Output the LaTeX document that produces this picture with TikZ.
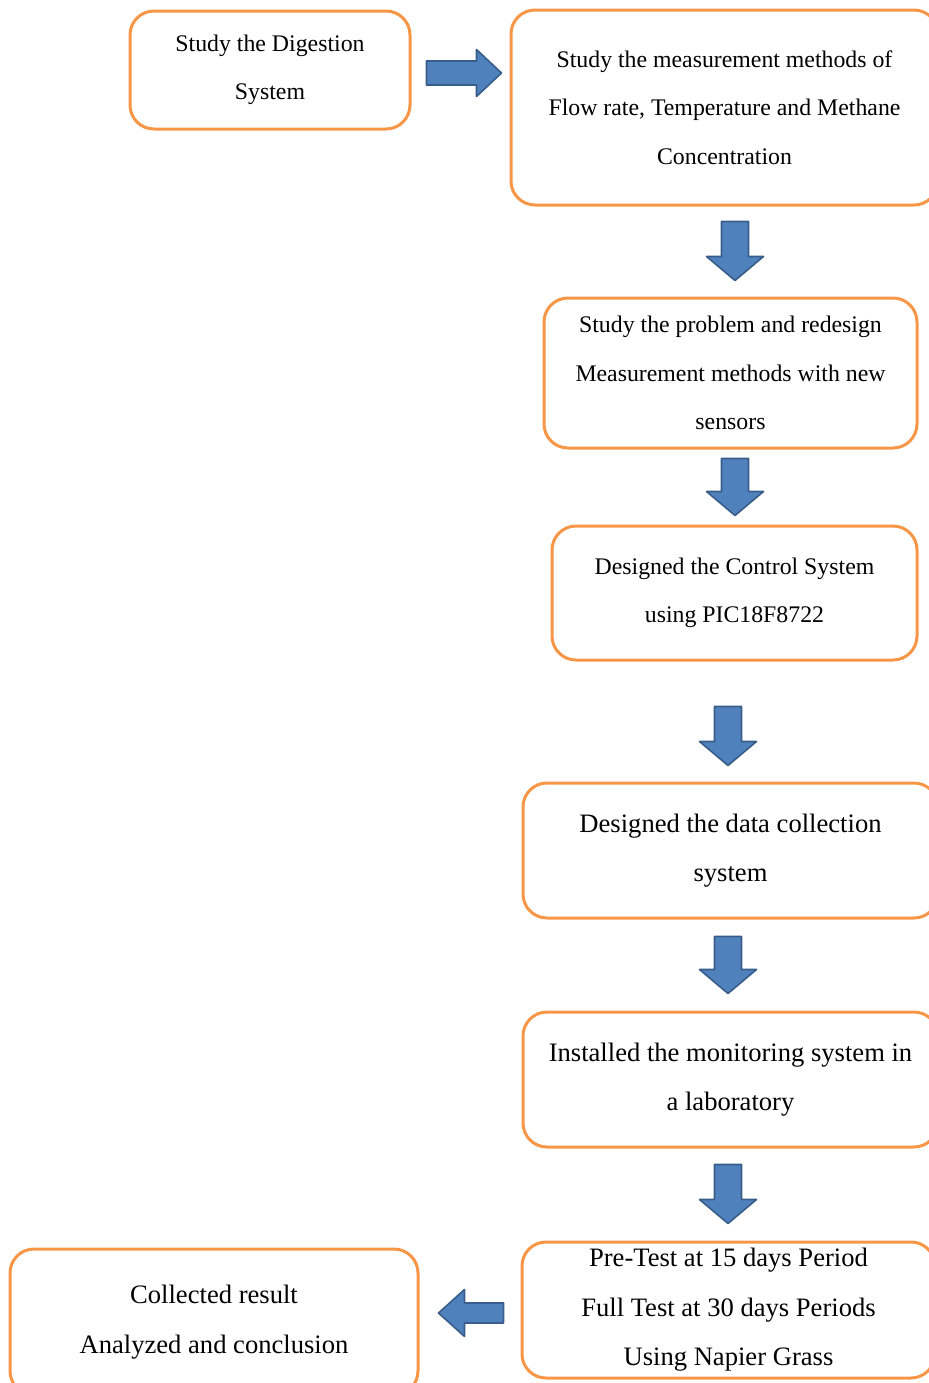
\documentclass[tikz,border=0pt]{standalone}
\usepackage{fontspec}
\setmainfont{Liberation Serif}
\usetikzlibrary{calc}
\definecolor{boxline}{HTML}{F79646}
\definecolor{arrowfill}{HTML}{4F81BD}
\definecolor{arrowline}{HTML}{385D8A}
\tikzset{
  stage/.style={draw=boxline,line width=1.5pt,rounded corners=12pt,align=center,inner sep=0pt,font={\fontsize{11.9}{24.2}\selectfont}},
  bigstage/.style={stage,font={\fontsize{13.3}{24.75}\selectfont}},
  blksize/.code n args={3}{\def\bsw{#1}\def\bhw{#2}\def\bhl{#3}},
  blk/.style={draw=arrowline,fill=arrowfill,line width=0.8pt,line join=round,
    to path={($(\tikztostart)!\bsw!90:(\tikztotarget)$)
      --($($(\tikztotarget)!\bhl!(\tikztostart)$)!\bsw!-90:(\tikztostart)$)
      --($($(\tikztotarget)!\bhl!(\tikztostart)$)!\bhw!-90:(\tikztostart)$)
      --(\tikztotarget)
      --($($(\tikztotarget)!\bhl!(\tikztostart)$)!\bhw!90:(\tikztostart)$)
      --($($(\tikztotarget)!\bhl!(\tikztostart)$)!\bsw!90:(\tikztostart)$)
      --($(\tikztostart)!\bsw!-90:(\tikztotarget)$)--cycle}},
  blkdown/.style={blk,blksize={6.75pt}{14.25pt}{12pt}}
}
\begin{document}
\begin{tikzpicture}[x=0.5pt,y=-0.5pt]
\useasboundingbox (0,0) rectangle (929,1383);
\clip (0,0) rectangle (929,1383);
\node[stage,minimum width=140pt,minimum height=59pt] (dig) at (270,70) {Study the Digestion\\System};
\node[stage,minimum width=213.5pt,minimum height=97.5pt] (meas) at (724.5,107.5) {Study the measurement methods of\\Flow rate, Temperature and Methane\\Concentration};
\node[stage,minimum width=186.5pt,minimum height=75pt] (prob) at (730.5,373) {Study the problem and redesign\\Measurement methods with new\\sensors};
\node[stage,minimum width=182.5pt,minimum height=67pt] (ctrl) at (734.5,593) {Designed the Control System\\using PIC18F8722};
\node[bigstage,minimum width=207.5pt,minimum height=67.5pt] (data) at (730.5,850.5) {Designed the data collection\\system};
\node[bigstage,minimum width=207.5pt,minimum height=67.5pt] (inst) at (730.5,1079.5) {Installed the monitoring system in\\a laboratory};
\node[bigstage,minimum width=206.5pt,minimum height=68pt] (test) at (728.5,1310) {Pre-Test at 15 days Period\\Full Test at 30 days Periods\\Using Napier Grass};
\node[bigstage,minimum width=204pt,minimum height=73pt] (res) at (214,1322) {Collected result\\Analyzed and conclusion};
\draw[blk,blksize={6pt}{11.75pt}{12.5pt}] ($(dig.east)+(15,3)$) to ($(meas.west)+(-8,-34.5)$);
\draw[blkdown] ($(meas.south)+(10.5,15)$) to ($(prob.north)+(4.5,-16)$);
\draw[blkdown] ($(prob.south)+(4.5,9)$) to ($(ctrl.north)+(0.5,-9)$);
\draw[blkdown] ($(ctrl.south)+(-6.5,45)$) to ($(data.north)+(-2.5,-16)$);
\draw[blkdown] ($(data.south)+(-2.5,17)$) to ($(inst.north)+(-2.5,-17)$);
\draw[blkdown] ($(inst.south)+(-2.5,16)$) to ($(test.north)+(-0.5,-17)$);
\draw[blk,blksize={5pt}{11.75pt}{13pt}] ($(test.west)+(-17,3)$) to ($(res.east)+(19,-9)$);
\end{tikzpicture}
\end{document}
